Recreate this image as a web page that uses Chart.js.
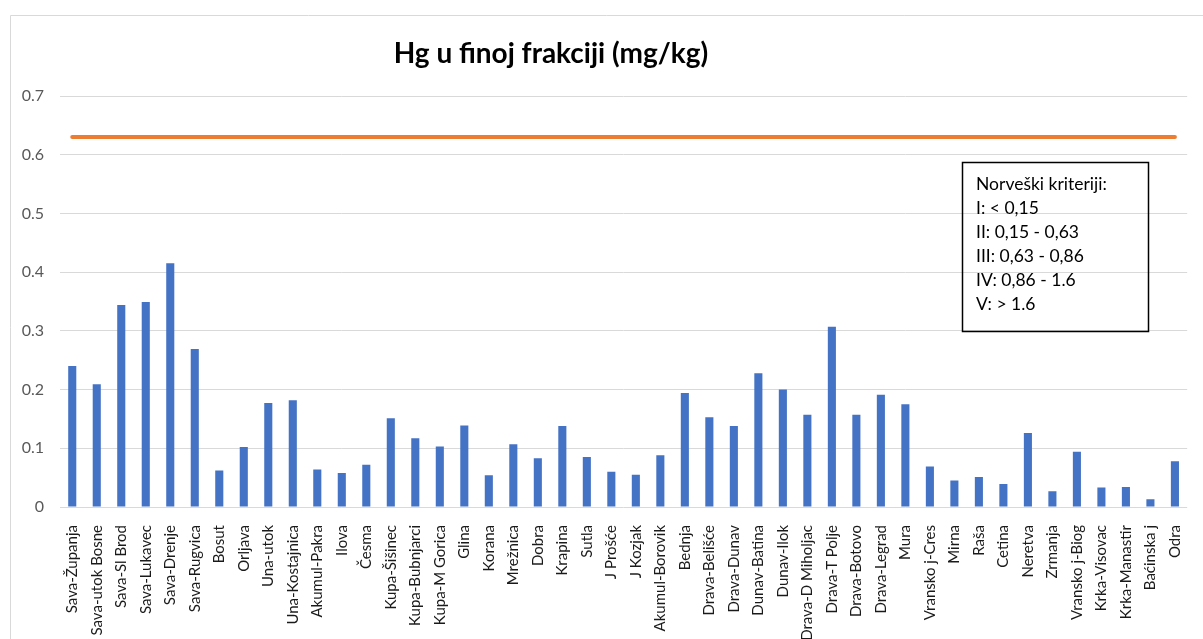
<!DOCTYPE html>
<html>
<head>
<meta charset="utf-8">
<script src="https://cdn.jsdelivr.net/npm/chart.js@4"></script>
<style>
  html, body { margin: 0; padding: 0; background: #fff; overflow: hidden; }
  #wrap { position: relative; width: 1203px; height: 639px; }
</style>
</head>
<body>
<div id="wrap"><canvas id="chart" width="1203" height="639"></canvas></div>
<script>
const chartTitle = "Hg u finoj frakciji (mg/kg)"

const stations = [
  "Sava-Županja", "Sava-utok Bosne", "Sava-Sl Brod", "Sava-Lukavec", "Sava-Drenje",
  "Sava-Rugvica", "Bosut", "Orljava", "Una-utok", "Una-Kostajnica",
  "Akumul-Pakra", "Ilova", "Česma", "Kupa-Šišinec", "Kupa-Bubnjarci",
  "Kupa-M Gorica", "Glina", "Korana", "Mrežnica", "Dobra",
  "Krapina", "Sutla", "J Prošće", "J Kozjak", "Akumul-Borovik",
  "Bednja", "Drava-Belišće", "Drava-Dunav", "Dunav-Batina", "Dunav-Ilok",
  "Drava-D Miholjac", "Drava-T Polje", "Drava-Botovo", "Drava-Legrad", "Mura",
  "Vransko j-Cres", "Mirna", "Raša", "Cetina", "Neretva",
  "Zrmanja", "Vransko j-Biog", "Krka-Visovac", "Krka-Manastir", "Baćinska j",
  "Odra"
]

const hgValues = [
  0.240, 0.209, 0.344, 0.349, 0.415,
  0.269, 0.062, 0.102, 0.177, 0.182,
  0.064, 0.058, 0.072, 0.151, 0.117,
  0.103, 0.139, 0.054, 0.107, 0.083,
  0.138, 0.085, 0.060, 0.055, 0.088,
  0.194, 0.153, 0.138, 0.228, 0.200,
  0.157, 0.307, 0.157, 0.191, 0.175,
  0.069, 0.045, 0.051, 0.039, 0.126,
  0.027, 0.094, 0.033, 0.034, 0.013,
  0.078
]

// granica III razreda (norveški kriteriji)
const limitValue = 0.63
const limitSeries = stations.map(() => limitValue)

const yTicks = [0, 0.1, 0.2, 0.3, 0.4, 0.5, 0.6, 0.7]

const criteriaLines = [
  "Norveški kriteriji:",
  "I: < 0,15",
  "II: 0,15 - 0,63",
  "III: 0,63 - 0,86",
  "IV: 0,86 - 1.6",
  "V: > 1.6"
]

const font = "Lato, 'Open Sans', sans-serif"

const decor = {
  id: "decor",
  beforeDraw(chart) {
    const ctx = chart.ctx
    ctx.save()
    ctx.strokeStyle = "#d9d9d9"
    ctx.lineWidth = 1
    ctx.beginPath()
    ctx.moveTo(10.5, chart.height)
    ctx.lineTo(10.5, 15.5)
    ctx.lineTo(chart.width, 15.5)
    ctx.stroke()
    ctx.restore()
  },
  afterDraw(chart) {
    const ctx = chart.ctx
    ctx.save()
    ctx.fillStyle = "#000"
    ctx.font = "bold 28px " + font
    ctx.textAlign = "center"
    ctx.textBaseline = "middle"
    ctx.fillText(chartTitle, 551, 54)

    // okvir s kriterijima
    ctx.strokeStyle = "#000"
    ctx.lineWidth = 1.5
    ctx.strokeRect(962.5, 162.5, 186, 169)
    ctx.font = "17.5px " + font
    ctx.textAlign = "left"
    criteriaLines.forEach((line, i) => {
      ctx.fillText(line, 976, 184 + i * 24)
    })
    ctx.restore()
  }
}

new Chart(document.getElementById("chart"), {
  data: {
    labels: stations,
    datasets: [
      {
        type: "line",
        data: limitSeries,
        borderColor: "#ED7D31",
        borderWidth: 4,
        borderCapStyle: "round",
        pointRadius: 0,
        order: 0
      },
      {
        type: "bar",
        data: hgValues,
        backgroundColor: "#4472C4",
        barPercentage: 0.33,
        categoryPercentage: 1,
        order: 1
      }
    ]
  },
  options: {
    responsive: false,
    animation: false,
    layout: {
      padding: { top: 96, left: 0, right: 7, bottom: 0 }
    },
    plugins: {
      legend: { display: false },
      tooltip: { enabled: false },
      title: { display: false }
    },
    scales: {
      x: {
        grid: { display: false },
        border: { display: false },
        ticks: {
          autoSkip: false,
          minRotation: 90,
          maxRotation: 90,
          padding: 10,
          color: "#1a1a1a",
          font: { family: font, size: 15 }
        },
        afterFit(scale) {
          scale.height = 132
        }
      },
      y: {
        min: 0,
        max: 0.7,
        afterBuildTicks(scale) {
          scale.ticks = yTicks.map(v => ({ value: v }))
        },
        grid: { color: "#d9d9d9", lineWidth: 1, drawTicks: false },
        border: { display: false },
        ticks: {
          padding: 16,
          color: "#595959",
          font: { family: font, size: 16 },
          callback: v => String(v)
        },
        afterFit(scale) {
          scale.width = 60
        }
      }
    }
  },
  plugins: [decor]
})
</script>
</body>
</html>
